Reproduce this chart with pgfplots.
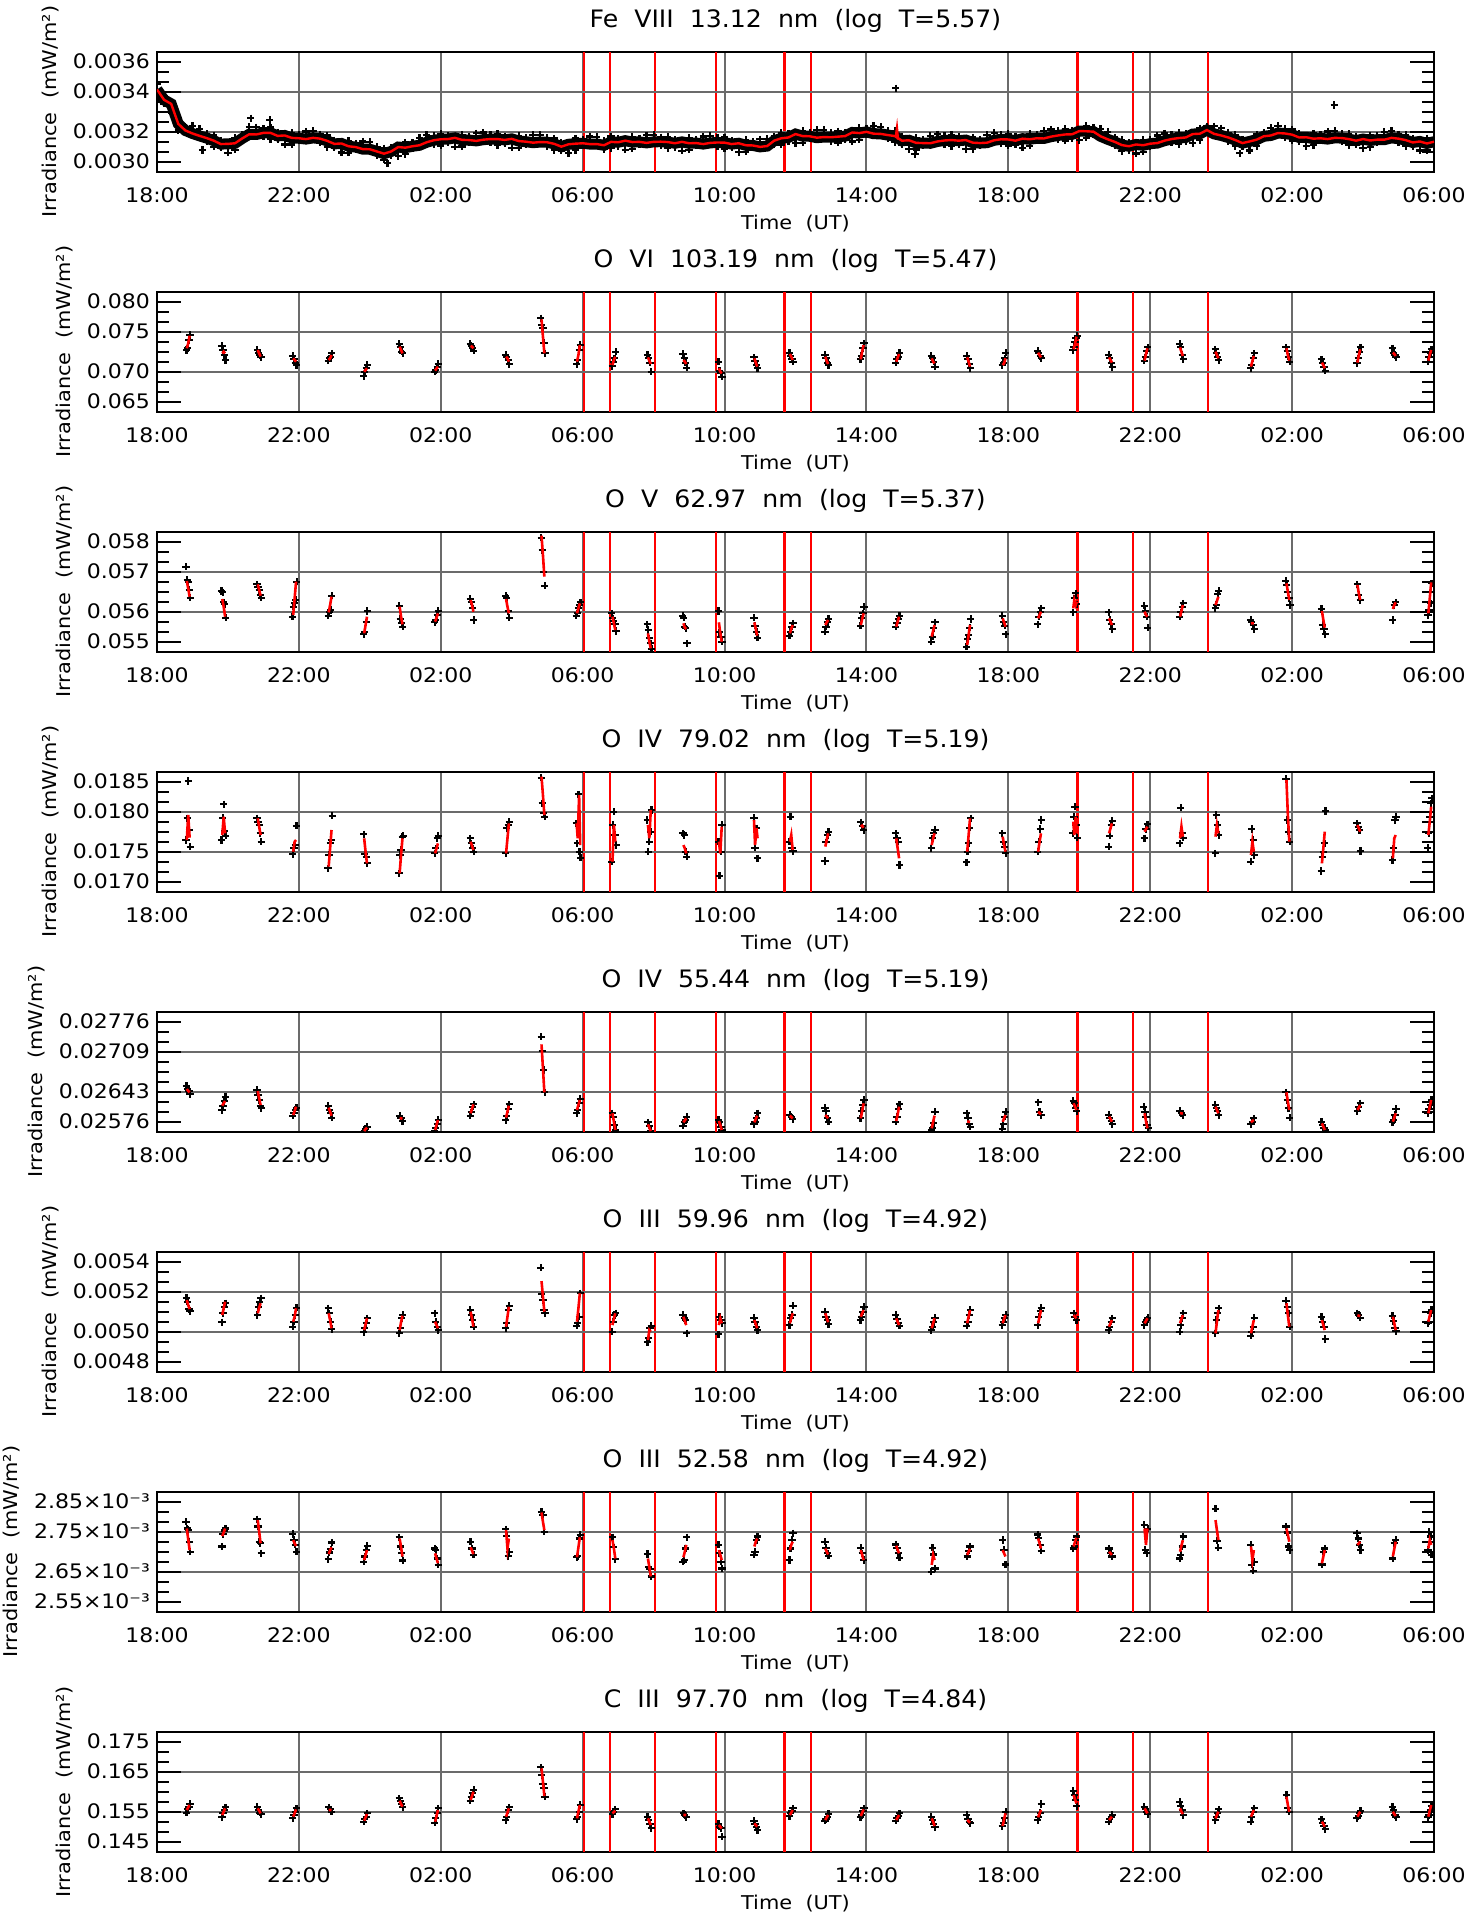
\documentclass[border=0pt]{standalone}
\usepackage{fontspec}
\setmainfont{DejaVu Sans}[FakeStretch=1.1,WordSpace=2]
\newfontfamily\ttl{DejaVu Sans}[FakeStretch=1.05,WordSpace=2]
\usepackage{pgfplots}
\usepackage{pgfplotstable}
\pgfplotsset{compat=1.18}
\definecolor{gridgray}{gray}{0.42}
\newcommand\tk{\fontsize{10}{12}\selectfont}
\newcommand\lb{\fontsize{9.5}{11}\selectfont}

\pgfplotsset{
  panel/.style={
    scale only axis, width=638.5pt, height=60pt, anchor=north west,
    xmin=0, xmax=36,
    clip marker paths=true,
    axis line style={line width=1.1pt},
    xtick={0,4,...,36},
    xticklabels={18:00,22:00,02:00,06:00,10:00,14:00,18:00,22:00,02:00,06:00},
    xmajorgrids,
    major grid style={gridgray,line width=1pt},
    xtick style={draw=none},
    tick align=inside,
    major tick length=12pt, minor tick length=6pt,
    every tick/.style={black,line width=1pt},
    scaled y ticks=false,
    ticklabel style={font=\tk},
    xticklabel style={anchor=base,yshift=-15.5pt},
    xlabel={Time (UT)},
    xlabel style={font=\lb,at={(axis description cs:0.5,0)},anchor=base,yshift=-29pt},
    ylabel={Irradiance (mW/m²)},
    ylabel style={font=\lb},
    title style={font=\ttl\fontsize{12}{14}\selectfont,at={(axis description cs:0.5,1)},anchor=base,yshift=6pt},
    extra x ticks={12.03,12.78,14.05,15.77,17.69,18.44,25.95,27.51,29.63},
    extra x tick labels={},
    extra x tick style={grid=major,major grid style={red,line width=1.05pt},major tick length=0pt},
    extra y tick labels={},
    extra y tick style={grid=major},
    unbounded coords=jump,
  },
  blk/.style={only marks,mark=+,mark size=1.8pt,black,mark options={solid,line width=1.1pt}},
  rd/.style={red,line width=1.3pt,mark=none},
}

% Fe VIII: smoothed curve (r) and the scatter of raw points (b1, b2)
\pgfplotstableread{
t r b1 b2
0 0.003411 0.003438 0.003380
0.2 0.003359 0.003340 0.003377
0.4 0.003339 0.003344 0.003294
0.6 0.003239 0.003206 0.003265
0.8 0.003206 0.003224 0.003194
1.0 0.003191 0.003187 0.003229
1.2 0.003179 0.003215 0.003173
1.4 0.003168 0.003149 0.003190
1.6 0.003155 0.003182 0.003124
1.8 0.003138 0.003119 0.003156
2.0 0.003139 0.003144 0.003094
2.2 0.003142 0.003109 0.003168
2.4 0.003166 0.003184 0.003154
2.6 0.003187 0.003183 0.003225
2.8 0.003186 0.003222 0.003180
3.0 0.003194 0.003175 0.003216
3.2 0.003194 0.003221 0.003163
3.4 0.003179 0.003160 0.003197
3.6 0.003181 0.003186 0.003136
3.8 0.003169 0.003136 0.003195
4.0 0.003167 0.003185 0.003155
4.2 0.003163 0.003159 0.003201
4.4 0.003169 0.003205 0.003163
4.6 0.003165 0.003146 0.003187
4.8 0.003154 0.003181 0.003123
5.0 0.003139 0.003120 0.003157
5.2 0.003141 0.003146 0.003096
5.4 0.003127 0.003094 0.003153
5.6 0.003123 0.003141 0.003111
5.8 0.003113 0.003109 0.003151
6.0 0.003112 0.003148 0.003106
6.2 0.003101 0.003082 0.003123
6.4 0.003090 0.003117 0.003059
6.6 0.003101 0.003082 0.003119
6.8 0.003123 0.003128 0.003078
7.0 0.003120 0.003087 0.003146
7.2 0.003127 0.003145 0.003115
7.4 0.003132 0.003128 0.003170
7.6 0.003147 0.003183 0.003141
7.8 0.003157 0.003138 0.003179
8.0 0.003162 0.003189 0.003131
8.2 0.003163 0.003144 0.003181
8.4 0.003169 0.003174 0.003124
8.6 0.003159 0.003126 0.003185
8.8 0.003158 0.003176 0.003146
9.0 0.003154 0.003150 0.003192
9.2 0.003160 0.003196 0.003154
9.4 0.003163 0.003144 0.003185
9.6 0.003163 0.003190 0.003132
9.8 0.003159 0.003140 0.003177
10.0 0.003164 0.003169 0.003119
10.2 0.003153 0.003120 0.003179
10.4 0.003150 0.003168 0.003138
10.6 0.003145 0.003141 0.003183
10.8 0.003148 0.003184 0.003142
11.0 0.003147 0.003128 0.003169
11.2 0.003139 0.003166 0.003108
11.4 0.003125 0.003106 0.003143
11.6 0.003137 0.003142 0.003092
11.8 0.003140 0.003107 0.003166
12.0 0.003142 0.003160 0.003130
12.2 0.003138 0.003134 0.003176
12.4 0.003138 0.003174 0.003132
12.6 0.003132 0.003113 0.003154
12.8 0.003149 0.003176 0.003118
13.0 0.003147 0.003128 0.003165
13.2 0.003155 0.003160 0.003110
13.4 0.003148 0.003115 0.003174
13.6 0.003149 0.003167 0.003137
13.8 0.003144 0.003140 0.003182
14.0 0.003149 0.003185 0.003143
14.2 0.003150 0.003131 0.003172
14.4 0.003148 0.003175 0.003117
14.6 0.003142 0.003123 0.003160
14.8 0.003149 0.003154 0.003104
15.0 0.003142 0.003109 0.003168
15.2 0.003143 0.003161 0.003131
15.4 0.003138 0.003134 0.003176
15.6 0.003144 0.003180 0.003138
15.8 0.003146 0.003127 0.003168
16.0 0.003145 0.003172 0.003114
16.2 0.003138 0.003119 0.003156
16.4 0.003142 0.003147 0.003097
16.6 0.003132 0.003099 0.003158
16.8 0.003131 0.003149 0.003119
17.0 0.003124 0.003120 0.003162
17.2 0.003128 0.003164 0.003122
17.4 0.003155 0.003136 0.003177
17.6 0.003167 0.003194 0.003136
17.8 0.003171 0.003152 0.003189
18.0 0.003188 0.003193 0.003143
18.2 0.003178 0.003145 0.003204
18.4 0.003177 0.003195 0.003165
18.6 0.003170 0.003166 0.003208
18.8 0.003173 0.003209 0.003167
19.0 0.003172 0.003153 0.003194
19.2 0.003175 0.003202 0.003144
19.4 0.003178 0.003159 0.003196
19.6 0.003196 0.003201 0.003151
19.8 0.003193 0.003160 0.003219
20.0 0.003199 0.003217 0.003187
20.2 0.003190 0.003186 0.003228
20.4 0.003189 0.003225 0.003183
20.6 0.003183 0.003164 0.003205
20.8 0.003178 0.003205 0.003147
21.0 0.003155 0.003136 0.003173
21.2 0.003157 0.003162 0.003112
21.4 0.003144 0.003111 0.003170
21.6 0.003143 0.003161 0.003131
21.8 0.003142 0.003138 0.003180
22.0 0.003151 0.003187 0.003145
22.2 0.003156 0.003137 0.003178
22.4 0.003158 0.003185 0.003127
22.6 0.003155 0.003136 0.003173
22.8 0.003158 0.003163 0.003113
23.0 0.003145 0.003112 0.003171
23.2 0.003143 0.003161 0.003131
23.4 0.003145 0.003141 0.003183
23.6 0.003157 0.003193 0.003151
23.8 0.003162 0.003143 0.003184
24.0 0.003161 0.003188 0.003130
24.2 0.003155 0.003136 0.003173
24.4 0.003165 0.003170 0.003120
24.6 0.003162 0.003129 0.003188
24.8 0.003167 0.003185 0.003155
25.0 0.003166 0.003162 0.003204
25.2 0.003175 0.003211 0.003169
25.4 0.003181 0.003162 0.003203
25.6 0.003186 0.003213 0.003155
25.8 0.003187 0.003168 0.003205
26.0 0.003203 0.003208 0.003158
26.2 0.003202 0.003169 0.003228
26.4 0.003200 0.003218 0.003188
26.6 0.003177 0.003173 0.003215
26.8 0.003162 0.003198 0.003156
27.0 0.003149 0.003130 0.003171
27.2 0.003133 0.003160 0.003102
27.4 0.003127 0.003108 0.003145
27.6 0.003136 0.003141 0.003091
27.8 0.003132 0.003099 0.003158
28.0 0.003140 0.003158 0.003128
28.2 0.003143 0.003139 0.003181
28.4 0.003155 0.003191 0.003149
28.6 0.003163 0.003144 0.003185
28.8 0.003168 0.003195 0.003137
29.0 0.003171 0.003152 0.003189
29.2 0.003188 0.003193 0.003143
29.4 0.003190 0.003157 0.003216
29.6 0.003208 0.003226 0.003196
29.8 0.003189 0.003185 0.003227
30.0 0.003181 0.003217 0.003175
30.2 0.003171 0.003152 0.003193
30.4 0.003158 0.003185 0.003127
30.6 0.003143 0.003124 0.003161
30.8 0.003151 0.003156 0.003106
31.0 0.003160 0.003127 0.003186
31.2 0.003177 0.003195 0.003165
31.4 0.003181 0.003177 0.003219
31.6 0.003193 0.003229 0.003187
31.8 0.003191 0.003172 0.003213
32.0 0.003185 0.003212 0.003154
32.2 0.003171 0.003152 0.003189
32.4 0.003172 0.003177 0.003127
32.6 0.003165 0.003132 0.003191
32.8 0.003167 0.003185 0.003155
33.0 0.003163 0.003159 0.003201
33.2 0.003169 0.003205 0.003163
33.4 0.003168 0.003149 0.003190
33.6 0.003163 0.003190 0.003132
33.8 0.003155 0.003136 0.003173
34.0 0.003163 0.003168 0.003118
34.2 0.003156 0.003123 0.003182
34.4 0.003160 0.003178 0.003148
34.6 0.003160 0.003156 0.003198
34.8 0.003169 0.003205 0.003163
35.0 0.003165 0.003146 0.003187
35.2 0.003158 0.003185 0.003127
35.4 0.003146 0.003127 0.003164
35.6 0.003151 0.003156 0.003106
35.8 0.003141 0.003108 0.003167
36.0 0.003150 0.003168 0.003138
}\fe

\begin{document}
\begin{tikzpicture}
\path[use as bounding box] (0,0) rectangle (740.5pt,957pt);

% ---------- Fe VIII ----------
\begin{axis}[panel, at={(78.5pt,931.15pt)},
  title={Fe VIII 13.12 nm (log T=5.57)},
  ymin=0.0030, ymax=0.0036,
  ytick={0.00305,0.0032,0.0034,0.00355},
  yticklabels={0.0030,0.0032,0.0034,0.0036},
  minor ytick={0.00305,0.0031,0.00315,0.0032,0.00325,0.0033,0.00335,0.0034,0.00345,0.0035,0.00355},
  extra y ticks={0.0032,0.0034}]
\addplot[black,line width=5.5pt] table[x=t,y=r]{\fe};
\addplot[blk] table[x=t,y=b1]{\fe};
\addplot[blk] table[x=t,y=b2]{\fe};
\addplot[blk] coordinates {(20.83,0.003417)(33.19,0.003333)(2.64,0.003267)(3.18,0.003258)(21.37,0.003087)(30.52,0.003092)(6.5,0.003042)(1.28,0.003108)};
\addplot[red,line width=1.2pt] table[x=t,y=r]{\fe};
\addplot[red,line width=1.2pt] coordinates {(20.83,0.003178)(20.86,0.003217)(20.89,0.003160)};
\end{axis}

% ---------- O VI ----------
\begin{axis}[panel, at={(78.5pt,811.15pt)},
  title={O VI 103.19 nm (log T=5.47)},
  ymin=0.065, ymax=0.080,
  ytick={0.06625,0.070,0.075,0.07875},
  yticklabels={0.065,0.070,0.075,0.080},
  minor ytick={0.06625,0.0675,0.06875,0.07,0.07125,0.0725,0.07375,0.075,0.07625,0.0775,0.07875},
  extra y ticks={0.070,0.075}]
\addplot[blk] coordinates {
(0.83,0.07271)(0.86,0.07292)(0.90,0.07396)(0.93,0.07458)
(1.83,0.07321)(1.86,0.07271)(1.90,0.07208)(1.93,0.07146)
(2.83,0.07271)(2.86,0.07238)(2.90,0.07208)(2.93,0.07179)
(3.83,0.07196)(3.86,0.07154)(3.90,0.07113)(3.93,0.07083)
(4.83,0.07138)(4.86,0.07167)(4.90,0.07188)(4.93,0.07229)
(5.83,0.06946)(5.86,0.07000)(5.90,0.07042)(5.93,0.07083)
(6.83,0.07346)(6.86,0.07304)(6.90,0.07250)(6.93,0.07229)
(7.83,0.07000)(7.86,0.07021)(7.90,0.07063)(7.93,0.07096)
(8.83,0.07346)(8.86,0.07321)(8.90,0.07292)(8.93,0.07263)
(9.83,0.07208)(9.86,0.07179)(9.90,0.07146)(9.93,0.07096)
(10.82,0.07667)(10.85,0.07583)(10.88,0.07542)(10.91,0.07363)(10.94,0.07229)
(11.83,0.07096)(11.86,0.07146)(11.90,0.07271)(11.93,0.07333)
(12.83,0.07071)(12.86,0.07125)(12.90,0.07167)(12.93,0.07250)
(13.83,0.07208)(13.86,0.07167)(13.90,0.07113)(13.93,0.07000)
(14.83,0.07221)(14.86,0.07167)(14.90,0.07113)(14.93,0.07050)
(15.83,0.07125)(15.86,0.07013)(15.90,0.06979)(15.93,0.06938)
(16.83,0.07179)(16.86,0.07138)(16.90,0.07083)(16.93,0.07042)
(17.83,0.07238)(17.86,0.07196)(17.90,0.07154)(17.93,0.07125)
(18.83,0.07208)(18.86,0.07167)(18.90,0.07113)(18.93,0.07083)
(19.83,0.07154)(19.86,0.07196)(19.90,0.07292)(19.93,0.07354)
(20.83,0.07113)(20.86,0.07154)(20.90,0.07188)(20.93,0.07238)
(21.83,0.07196)(21.86,0.07167)(21.90,0.07125)(21.93,0.07063)
(22.83,0.07196)(22.86,0.07154)(22.90,0.07096)(22.93,0.07042)
(23.83,0.07083)(23.86,0.07113)(23.90,0.07167)(23.93,0.07238)
(24.83,0.07263)(24.86,0.07229)(24.90,0.07196)(24.93,0.07167)
(25.82,0.07271)(25.85,0.07313)(25.88,0.07375)(25.91,0.07417)(25.94,0.07446)
(26.83,0.07208)(26.86,0.07167)(26.90,0.07113)(26.93,0.07054)
(27.83,0.07138)(27.86,0.07179)(27.90,0.07263)(27.93,0.07304)
(28.83,0.07346)(28.86,0.07304)(28.90,0.07208)(28.93,0.07154)
(29.83,0.07279)(29.86,0.07238)(29.90,0.07188)(29.93,0.07146)
(30.83,0.07042)(30.86,0.07083)(30.90,0.07167)(30.93,0.07229)
(31.83,0.07304)(31.86,0.07263)(31.90,0.07188)(31.93,0.07125)
(32.83,0.07154)(32.86,0.07104)(32.90,0.07054)(32.93,0.07013)
(33.83,0.07104)(33.86,0.07167)(33.90,0.07250)(33.93,0.07304)
(34.83,0.07292)(34.86,0.07238)(34.90,0.07208)(34.93,0.07179)
(35.83,0.07125)(35.86,0.07179)(35.90,0.07229)(35.93,0.07279)};
\addplot[rd] coordinates {
(0.84,0.07292)(0.88,0.07354)(0.92,0.07450)(0.96,nan)
(1.84,0.07229)(1.88,0.07250)(1.92,0.07229)(1.96,nan)
(2.84,0.07271)(2.88,0.07229)(2.92,0.07188)(2.96,nan)
(3.84,0.07167)(3.88,0.07146)(3.92,0.07125)(3.96,nan)
(4.84,0.07146)(4.88,0.07167)(4.92,0.07208)(4.96,nan)
(5.84,0.07000)(5.88,0.07021)(5.92,0.07042)(5.96,nan)
(6.84,0.07313)(6.88,0.07271)(6.92,0.07229)(6.96,nan)
(7.84,0.07013)(7.88,0.07040)(7.92,0.07063)(7.96,nan)
(8.84,0.07321)(8.88,0.07313)(8.92,0.07292)(8.96,nan)
(9.84,0.07188)(9.88,0.07167)(9.92,0.07125)(9.96,nan)
(10.84,0.07654)(10.88,0.07438)(10.92,0.07229)(10.96,nan)
(11.84,0.07125)(11.88,0.07208)(11.92,0.07333)(11.96,nan)
(12.84,0.07083)(12.88,0.07146)(12.92,0.07188)(12.96,nan)
(13.84,0.07179)(13.88,0.07138)(13.92,0.07096)(13.96,nan)
(14.84,0.07146)(14.88,0.07125)(14.92,0.07096)(14.96,nan)
(15.84,0.07042)(15.88,0.07000)(15.92,0.06979)(15.96,nan)
(16.84,0.07167)(16.88,0.07113)(16.92,0.07063)(16.96,nan)
(17.84,0.07221)(17.88,0.07188)(17.92,0.07146)(17.96,nan)
(18.84,0.07188)(18.88,0.07133)(18.92,0.07096)(18.96,nan)
(19.84,0.07154)(19.88,0.07254)(19.92,0.07333)(19.96,nan)
(20.84,0.07125)(20.88,0.07175)(20.92,0.07221)(20.96,nan)
(21.84,0.07167)(21.88,0.07125)(21.92,0.07104)(21.96,nan)
(22.84,0.07179)(22.88,0.07125)(22.92,0.07063)(22.96,nan)
(23.84,0.07083)(23.88,0.07104)(23.92,0.07167)(23.96,nan)
(24.84,0.07238)(24.88,0.07208)(24.92,0.07179)(24.96,nan)
(25.84,0.07280)(25.88,0.07350)(25.92,0.07438)(25.96,nan)
(26.84,0.07179)(26.88,0.07146)(26.92,0.07113)(26.96,nan)
(27.84,0.07138)(27.88,0.07221)(27.92,0.07292)(27.96,nan)
(28.84,0.07304)(28.88,0.07246)(28.92,0.07196)(28.96,nan)
(29.84,0.07250)(29.88,0.07208)(29.92,0.07167)(29.96,nan)
(30.84,0.07063)(30.88,0.07133)(30.92,0.07196)(30.96,nan)
(31.84,0.07292)(31.88,0.07208)(31.92,0.07138)(31.96,nan)
(32.84,0.07113)(32.88,0.07083)(32.92,0.07042)(32.96,nan)
(33.84,0.07113)(33.88,0.07204)(33.92,0.07279)(33.96,nan)
(34.84,0.07238)(34.88,0.07221)(34.92,0.07196)(34.96,nan)
(35.84,0.07138)(35.88,0.07208)(35.92,0.07271)};
\end{axis}

% ---------- O V ----------
\begin{axis}[panel, at={(78.5pt,691.15pt)},
  title={O V 62.97 nm (log T=5.37)},
  ymin=0.055, ymax=0.058,
  ytick={0.05525,0.056,0.057,0.05775},
  yticklabels={0.055,0.056,0.057,0.058},
  minor ytick={0.05525,0.0555,0.05575,0.056,0.05625,0.0565,0.05675,0.057,0.05725,0.0575,0.05775},
  extra y ticks={0.056,0.057}]
\addplot[blk] coordinates {
(0.82,0.057125)(0.85,0.056792)(0.88,0.056733)(0.91,0.056542)(0.94,0.05635)
(1.82,0.056517)(1.85,0.056483)(1.88,0.056233)(1.91,0.056183)(1.94,0.05585)
(2.82,0.056683)(2.85,0.056625)(2.88,0.056542)(2.91,0.056417)(2.94,0.05635)
(3.82,0.055875)(3.85,0.056125)(3.88,0.056208)(3.91,0.056292)(3.94,0.05675)
(4.83,0.0559)(4.86,0.055983)(4.90,0.056042)(4.93,0.0564)
(5.83,0.055433)(5.86,0.0555)(5.90,0.055733)(5.93,0.056017)
(6.83,0.05615)(6.86,0.055817)(6.90,0.055708)(6.93,0.055625)
(7.83,0.055733)(7.86,0.055792)(7.90,0.055917)(7.93,0.056017)
(8.83,0.056317)(8.86,0.05625)(8.90,0.056083)(8.93,0.055792)
(9.83,0.0564)(9.86,0.05635)(9.90,0.056017)(9.93,0.05585)
(10.83,0.05785)(10.86,0.057542)(10.90,0.057)(10.93,0.05665)
(11.82,0.0559)(11.85,0.055958)(11.88,0.056083)(11.91,0.056167)(11.94,0.056233)
(12.82,0.055958)(12.85,0.055833)(12.88,0.055767)(12.91,0.055683)(12.94,0.055517)
(13.82,0.055683)(13.85,0.055542)(13.88,0.055333)(13.91,0.055208)(13.94,0.055067)
(14.82,0.0559)(14.85,0.05585)(14.88,0.055625)(14.91,0.055583)(14.94,0.055208)
(15.83,0.056017)(15.86,0.055483)(15.90,0.055375)(15.93,0.05525)
(16.83,0.05585)(16.86,0.05565)(16.90,0.0555)(16.93,0.05535)
(17.83,0.0554)(17.86,0.0555)(17.90,0.055625)(17.93,0.055708)
(18.83,0.0555)(18.86,0.055625)(18.90,0.055733)(18.93,0.055817)
(19.83,0.05565)(19.86,0.055833)(19.90,0.055958)(19.93,0.056125)
(20.83,0.055625)(20.86,0.055708)(20.90,0.055817)(20.93,0.0559)
(21.83,0.05525)(21.86,0.055375)(21.90,0.055583)(21.93,0.055733)
(22.82,0.055125)(22.85,0.055317)(22.88,0.055417)(22.91,0.0556)(22.94,0.055817)
(23.83,0.0559)(23.86,0.05575)(23.90,0.05565)(23.93,0.055433)
(24.83,0.055683)(24.86,0.055875)(24.90,0.055983)(24.93,0.056083)
(25.83,0.055983)(25.86,0.056333)(25.90,0.056458)(25.93,0.056183)
(26.83,0.055983)(26.86,0.055792)(26.90,0.055683)(26.93,0.055567)
(27.83,0.05615)(27.86,0.056017)(27.90,0.055875)(27.93,0.0556)
(28.83,0.055875)(28.86,0.055983)(28.90,0.056125)(28.93,0.056208)
(29.83,0.056083)(29.86,0.056167)(29.90,0.056433)(29.93,0.056517)
(30.83,0.055792)(30.86,0.055733)(30.90,0.055667)(30.93,0.055567)
(31.82,0.056767)(31.85,0.056667)(31.88,0.056483)(31.91,0.056333)(31.94,0.056167)
(32.83,0.056067)(32.86,0.055667)(32.90,0.055567)(32.93,0.055433)
(33.84,0.056683)(33.88,0.056417)(33.92,0.056292)
(34.84,0.055792)(34.88,0.056167)(34.92,0.056233)
(35.83,0.055917)(35.86,0.056042)(35.90,0.056208)(35.93,0.056708)};
\addplot[rd] coordinates {
(0.84,0.056767)(0.88,0.056583)(0.92,0.056375)(0.96,nan)
(1.84,0.056317)(1.88,0.056125)(1.92,0.055875)(1.96,nan)
(2.84,0.056683)(2.88,0.056542)(2.92,0.0564)(2.96,nan)
(3.84,0.055917)(3.88,0.056333)(3.92,0.05675)(3.96,nan)
(4.84,0.055983)(4.88,0.056167)(4.92,0.056375)(4.96,nan)
(5.84,0.055458)(5.88,0.055667)(5.92,0.055875)(5.96,nan)
(6.84,0.056125)(6.88,0.055875)(6.92,0.055683)(6.96,nan)
(7.84,0.05575)(7.88,0.05585)(7.92,0.055958)(7.96,nan)
(8.84,0.056292)(8.88,0.056167)(8.92,0.056)(8.96,nan)
(9.84,0.056317)(9.88,0.056125)(9.92,0.055958)(9.96,nan)
(10.84,0.0579)(10.88,0.057417)(10.92,0.056875)(10.96,nan)
(11.84,0.055958)(11.88,0.056083)(11.92,0.056208)(11.96,nan)
(12.84,0.055875)(12.88,0.055708)(12.92,0.055542)(12.96,nan)
(13.84,0.055458)(13.88,0.05525)(13.92,0.055083)(13.96,nan)
(14.84,0.055708)(14.88,0.0556)(14.92,0.055567)(14.96,nan)
(15.84,0.055733)(15.88,0.055458)(15.92,0.05525)(15.96,nan)
(16.84,0.055733)(16.88,0.055567)(16.92,0.0554)(16.96,nan)
(17.84,0.055458)(17.88,0.055567)(17.92,0.055667)(17.96,nan)
(18.84,0.055667)(18.88,0.055733)(18.92,0.055792)(18.96,nan)
(19.84,0.055667)(19.88,0.055817)(19.92,0.055958)(19.96,nan)
(20.84,0.055625)(20.88,0.05575)(20.92,0.055875)(20.96,nan)
(21.84,0.055375)(21.88,0.055517)(21.92,0.055667)(21.96,nan)
(22.84,0.055167)(22.88,0.055417)(22.92,0.055667)(22.96,nan)
(23.84,0.055833)(23.88,0.055733)(23.92,0.055625)(23.96,nan)
(24.84,0.055833)(24.88,0.055917)(24.92,0.056)(24.96,nan)
(25.83,0.056083)(25.86,0.056292)(25.90,0.056167)(25.93,0.05625)(25.96,nan)
(26.84,0.055833)(26.88,0.05575)(26.92,0.055667)(26.96,nan)
(27.84,0.056)(27.88,0.055917)(27.92,0.055875)(27.96,nan)
(28.84,0.055875)(28.88,0.056017)(28.92,0.056167)(28.96,nan)
(29.84,0.056167)(29.88,0.056267)(29.92,0.056375)(29.96,nan)
(30.84,0.055708)(30.88,0.05571)(30.92,0.055708)(30.96,nan)
(31.84,0.056708)(31.88,0.0565)(31.92,0.056292)(31.96,nan)
(32.84,0.056017)(32.88,0.055792)(32.92,0.0556)(32.96,nan)
(33.84,0.056667)(33.88,0.056458)(33.92,0.056292)(33.96,nan)
(34.84,0.056067)(34.88,0.056167)(34.92,0.056233)(34.96,nan)
(35.84,0.055958)(35.88,0.056333)(35.92,0.056733)};
\end{axis}

% ---------- O IV 79.02 ----------
\begin{axis}[panel, at={(78.5pt,571.15pt)},
  title={O IV 79.02 nm (log T=5.19)},
  ymin=0.0170, ymax=0.0185,
  ytick={0.017125,0.0175,0.018,0.018375},
  yticklabels={0.0170,0.0175,0.0180,0.0185},
  minor ytick={0.017125,0.01725,0.017375,0.0175,0.017625,0.01775,0.017875,0.018,0.018125,0.01825,0.018375},
  extra y ticks={0.0175,0.018}]
\addplot[blk] coordinates {
(0.82,0.017646)(0.85,0.017917)(0.88,0.018383)(0.91,0.017771)(0.94,0.017563)
(1.82,0.017646)(1.85,0.017925)(1.88,0.018092)(1.91,0.017758)(1.94,0.0177)
(2.82,0.017917)(2.85,0.017875)(2.88,0.017833)(2.91,0.017729)(2.94,0.017625)
(3.83,0.017467)(3.86,0.017542)(3.90,0.017583)(3.93,0.017825)
(4.82,0.017292)(4.85,0.017458)(4.88,0.017604)(4.91,0.017646)(4.94,0.01795)
(5.83,0.017717)(5.86,0.017467)(5.90,0.017438)(5.93,0.017354)
(6.82,0.017229)(6.85,0.017458)(6.88,0.017521)(6.91,0.017688)(6.94,0.0177)
(7.83,0.017479)(7.86,0.017542)(7.90,0.017667)(7.93,0.0177)
(8.83,0.017667)(8.86,0.017604)(8.90,0.017542)(8.93,0.0175)
(9.83,0.017479)(9.86,0.017792)(9.90,0.017833)(9.93,0.017875)
(10.83,0.018425)(10.86,0.018104)(10.90,0.017979)(10.93,0.017938)
(11.82,0.017854)(11.85,0.017604)(11.88,0.018217)(11.91,0.0175)(11.94,0.017425)
(12.82,0.017375)(12.85,0.017833)(12.88,0.018)(12.91,0.017708)(12.94,0.017583)
(13.82,0.017896)(13.85,0.0175)(13.88,0.017625)(13.91,0.01775)(13.94,0.018021)
(14.83,0.017729)(14.86,0.017708)(14.90,0.0175)(14.93,0.017438)
(15.83,0.017625)(15.86,0.0172)(15.90,0.0175)(15.93,0.017833)
(16.83,0.017925)(16.86,0.01755)(16.90,0.017792)(16.93,0.017417)
(17.83,0.017625)(17.86,0.017938)(17.90,0.017542)(17.93,0.017508)
(18.83,0.017383)(18.86,0.017617)(18.90,0.017708)(18.93,0.01775)
(19.84,0.017867)(19.88,0.017825)(19.92,0.017771)
(20.83,0.017729)(20.86,0.017667)(20.90,0.017625)(20.93,0.017333)
(21.83,0.017542)(21.86,0.017667)(21.90,0.017729)(21.93,0.017771)
(22.82,0.017367)(22.85,0.0175)(22.88,0.017604)(22.91,0.0178)(22.94,0.017917)
(23.83,0.017729)(23.86,0.017625)(23.90,0.017563)(23.93,0.017479)
(24.83,0.0175)(24.86,0.017625)(24.90,0.017783)(24.93,0.017896)
(25.82,0.017729)(25.85,0.017938)(25.88,0.018063)(25.91,0.017833)(25.94,0.017675)
(26.83,0.017563)(26.86,0.0177)(26.90,0.017833)(26.93,0.017883)
(27.84,0.017667)(27.88,0.017783)(27.92,0.017842)
(28.83,0.017604)(28.86,0.01805)(28.90,0.017729)(28.93,0.017675)
(29.83,0.017479)(29.86,0.017958)(29.90,0.017833)(29.93,0.017708)
(30.83,0.017375)(30.86,0.017783)(30.90,0.017646)(30.93,0.017458)
(31.83,0.018408)(31.86,0.017896)(31.90,0.01775)(31.93,0.017625)
(32.82,0.017258)(32.85,0.017438)(32.88,0.0175)(32.91,0.017604)(32.94,0.018008)
(33.83,0.017854)(33.86,0.017813)(33.90,0.017771)(33.93,0.017508)
(34.83,0.017396)(34.86,0.017542)(34.90,0.017896)(34.93,0.017938)
(35.82,0.01755)(35.85,0.017729)(35.88,0.017938)(35.91,0.018104)(35.94,0.018167)};
\addplot[rd] coordinates {
(0.84,0.017646)(0.88,0.017958)(0.92,0.017675)(0.96,nan)
(1.84,0.017708)(1.88,0.017938)(1.92,0.017729)(1.96,nan)
(2.84,0.017917)(2.88,0.017813)(2.92,0.017708)(2.96,nan)
(3.84,0.0175)(3.88,0.017625)(3.92,0.017646)(3.96,nan)
(4.84,0.017313)(4.88,0.017542)(4.92,0.017771)(4.96,nan)
(5.84,0.017667)(5.88,0.0175)(5.92,0.017354)(5.96,nan)
(6.84,0.017229)(6.88,0.017458)(6.92,0.017667)(6.96,nan)
(7.84,0.017479)(7.88,0.017542)(7.92,0.017604)(7.96,nan)
(8.84,0.017625)(8.88,0.017575)(8.92,0.017521)(8.96,nan)
(9.84,0.017479)(9.88,0.017667)(9.92,0.017854)(9.96,nan)
(10.84,0.018438)(10.88,0.018208)(10.92,0.017958)(10.96,nan)
(11.83,0.017854)(11.86,0.017667)(11.90,0.018208)(11.93,0.017583)(11.96,nan)
(12.84,0.017375)(12.88,0.017833)(12.92,0.017625)(12.96,nan)
(13.84,0.017833)(13.88,0.017667)(13.92,0.018021)(13.96,nan)
(14.84,0.017583)(14.88,0.017542)(14.92,0.017479)(14.96,nan)
(15.84,0.017625)(15.88,0.017479)(15.92,0.017813)(15.96,nan)
(16.83,0.017896)(16.86,0.017583)(16.90,0.017792)(16.93,0.017667)(16.96,nan)
(17.84,0.017625)(17.88,0.017708)(17.92,0.017521)(17.96,nan)
(18.84,0.017563)(18.88,0.017646)(18.92,0.017729)(18.96,nan)
(19.84,0.017813)(19.88,0.017825)(19.92,0.0178)(19.96,nan)
(20.84,0.017667)(20.88,0.017542)(20.92,0.017417)(20.96,nan)
(21.84,0.017583)(21.88,0.017667)(21.92,0.017729)(21.96,nan)
(22.84,0.0175)(22.88,0.017708)(22.92,0.017917)(22.96,nan)
(23.84,0.017688)(23.88,0.017583)(23.92,0.0175)(23.96,nan)
(24.84,0.0175)(24.88,0.017625)(24.92,0.017729)(24.96,nan)
(25.83,0.017875)(25.86,0.017708)(25.90,0.017938)(25.93,0.017729)(25.96,nan)
(26.84,0.017729)(26.88,0.017792)(26.92,0.017854)(26.96,nan)
(27.84,0.01775)(27.88,0.017783)(27.92,0.017813)(27.96,nan)
(28.84,0.017667)(28.88,0.017813)(28.92,0.017688)(28.96,nan)
(29.84,0.017688)(29.88,0.017833)(29.92,0.017729)(29.96,nan)
(30.84,0.017458)(30.88,0.017625)(30.92,0.0175)(30.96,nan)
(31.84,0.018396)(31.88,0.017958)(31.92,0.017625)(31.96,nan)
(32.84,0.017354)(32.88,0.017542)(32.92,0.01775)(32.96,nan)
(33.84,0.017833)(33.88,0.017792)(33.92,0.01775)(33.96,nan)
(34.84,0.017417)(34.88,0.017667)(34.92,0.017708)(34.96,nan)
(35.84,0.017708)(35.88,0.017875)(35.92,0.018063)};
\end{axis}

% ---------- O IV 55.44 ----------
\begin{axis}[panel, at={(78.5pt,451.15pt)},
  title={O IV 55.44 nm (log T=5.19)},
  ymin=0.02577, ymax=0.02775,
  ytick={0.025935,0.02643,0.02709,0.027585},
  yticklabels={0.02576,0.02643,0.02709,0.02776},
  minor ytick={0.025935,0.0261,0.026265,0.02643,0.026595,0.02676,0.026925,0.02709,0.027255,0.02742,0.027585},
  extra y ticks={0.02643,0.02709}]
\addplot[blk] coordinates {
(0.83,0.026529)(0.86,0.026474)(0.90,0.026441)(0.93,0.026386)
(1.83,0.026128)(1.86,0.026199)(1.90,0.026276)(1.93,0.026348)
(2.82,0.026458)(2.85,0.026375)(2.88,0.026293)(2.91,0.026199)(2.94,0.026155)
(3.83,0.026034)(3.86,0.026073)(3.90,0.026128)(3.93,0.026166)
(4.83,0.026199)(4.86,0.026128)(4.90,0.026073)(4.93,0.026001)
(5.84,0.025781)(5.88,0.025814)(5.92,0.025853)
(6.84,0.026034)(6.88,0.02599)(6.92,0.025946)
(7.83,0.025781)(7.86,0.025825)(7.90,0.025891)(7.93,0.025963)
(8.83,0.026034)(8.86,0.026089)(8.90,0.026183)(8.93,0.026221)
(9.83,0.025963)(9.86,0.026034)(9.90,0.026144)(9.93,0.026221)
(10.83,0.027338)(10.86,0.027101)(10.90,0.026788)(10.93,0.026419)
(11.83,0.026073)(11.86,0.026128)(11.90,0.026238)(11.93,0.026309)
(12.83,0.026073)(12.86,0.026018)(12.90,0.02588)(12.93,0.025798)
(13.84,0.025924)(13.88,0.025869)(13.92,0.025781)
(14.83,0.025869)(14.86,0.025924)(14.90,0.025963)(14.93,0.026018)
(15.83,0.025963)(15.86,0.025924)(15.90,0.025853)(15.93,0.025798)
(16.83,0.025891)(16.86,0.025935)(16.90,0.02599)(16.93,0.026073)
(17.84,0.026045)(17.88,0.026018)(17.92,0.025979)
(18.83,0.026166)(18.86,0.026111)(18.90,0.02599)(18.93,0.025935)
(19.83,0.02599)(19.86,0.026111)(19.90,0.02621)(19.93,0.026293)
(20.83,0.025935)(20.86,0.026018)(20.90,0.026144)(20.93,0.026221)
(21.83,0.025798)(21.86,0.025836)(21.90,0.025908)(21.93,0.0261)
(22.83,0.026073)(22.86,0.026001)(22.90,0.025891)(22.93,0.025853)
(23.83,0.025814)(23.86,0.025891)(23.90,0.026018)(23.93,0.0261)
(24.84,0.026254)(24.88,0.0261)(24.92,0.026045)
(25.83,0.026276)(25.86,0.026238)(25.90,0.026166)(25.93,0.026111)
(26.83,0.026045)(26.86,0.02599)(26.90,0.025946)(26.93,0.025891)
(27.82,0.026183)(27.85,0.0261)(27.88,0.026018)(27.91,0.02588)(27.94,0.025825)
(28.84,0.026111)(28.88,0.026073)(28.92,0.026045)
(29.83,0.02621)(29.86,0.026166)(29.90,0.026111)(29.93,0.026045)
(30.84,0.025891)(30.88,0.025935)(30.92,0.02599)
(31.83,0.026419)(31.86,0.026293)(31.90,0.026155)(31.93,0.026001)
(32.83,0.025935)(32.86,0.02588)(32.90,0.025836)(32.93,0.025798)
(33.84,0.026111)(33.88,0.026183)(33.92,0.026238)
(34.83,0.025924)(34.86,0.025963)(34.90,0.026045)(34.93,0.026144)
(35.83,0.026073)(35.86,0.026144)(35.90,0.02621)(35.93,0.026293)};
\addplot[rd] coordinates {
(0.84,0.026474)(0.88,0.026441)(0.92,0.026419)(0.96,nan)
(1.84,0.026199)(1.88,0.026238)(1.92,0.026276)(1.96,nan)
(2.84,0.026441)(2.88,0.02632)(2.92,0.02621)(2.96,nan)
(3.84,0.026045)(3.88,0.026111)(3.92,0.026183)(3.96,nan)
(4.84,0.026166)(4.88,0.0261)(4.92,0.026034)(4.96,nan)
(5.84,0.025781)(5.88,0.025814)(5.92,0.025836)(5.96,nan)
(6.84,0.025995)(6.88,0.02599)(6.92,0.025985)(6.96,nan)
(7.84,0.025798)(7.88,0.02588)(7.92,0.025963)(7.96,nan)
(8.84,0.026073)(8.88,0.026144)(8.92,0.026221)(8.96,nan)
(9.84,0.026001)(9.88,0.0261)(9.92,0.026199)(9.96,nan)
(10.84,0.027211)(10.88,0.026815)(10.92,0.026419)(10.96,nan)
(11.84,0.026128)(11.88,0.02621)(11.92,0.026293)(11.96,nan)
(12.84,0.026073)(12.88,0.025935)(12.92,0.025798)(12.96,nan)
(13.84,0.025891)(13.88,0.025836)(13.92,0.025781)(13.96,nan)
(14.84,0.025924)(14.88,0.025957)(14.92,0.02599)(14.96,nan)
(15.84,0.025946)(15.88,0.02588)(15.92,0.025798)(15.96,nan)
(16.84,0.025924)(16.88,0.025979)(16.92,0.026034)(16.96,nan)
(17.84,0.026034)(17.88,0.026012)(17.92,0.02599)(17.96,nan)
(18.84,0.026045)(18.88,0.026018)(18.92,0.02599)(18.96,nan)
(19.84,0.02599)(19.88,0.026111)(19.92,0.026238)(19.96,nan)
(20.84,0.025946)(20.88,0.026056)(20.92,0.026183)(20.96,nan)
(21.84,0.025825)(21.88,0.025935)(21.92,0.026034)(21.96,nan)
(22.84,0.02594)(22.88,0.025935)(22.92,0.02593)(22.96,nan)
(23.84,0.025935)(23.88,0.02599)(23.92,0.026045)(23.96,nan)
(24.84,0.0261)(24.88,0.026078)(24.92,0.026056)(24.96,nan)
(25.84,0.026238)(25.88,0.026183)(25.92,0.026128)(25.96,nan)
(26.84,0.026018)(26.88,0.025979)(26.92,0.025935)(26.96,nan)
(27.84,0.026073)(27.88,0.025946)(27.92,0.025825)(27.96,nan)
(28.84,0.026078)(28.88,0.026073)(28.92,0.026068)(28.96,nan)
(29.84,0.026183)(29.88,0.026128)(29.92,0.026073)(29.96,nan)
(30.84,0.025924)(30.88,0.025946)(30.92,0.025963)(30.96,nan)
(31.84,0.026419)(31.88,0.026265)(31.92,0.026128)(31.96,nan)
(32.84,0.025908)(32.88,0.025853)(32.92,0.025798)(32.96,nan)
(33.84,0.026128)(33.88,0.026166)(33.92,0.02621)(33.96,nan)
(34.84,0.025935)(34.88,0.026001)(34.92,0.026073)(34.96,nan)
(35.84,0.026073)(35.88,0.026183)(35.92,0.026293)};
\end{axis}

% ---------- O III 59.96 ----------
\begin{axis}[panel, at={(78.5pt,331.15pt)},
  title={O III 59.96 nm (log T=4.92)},
  ymin=0.0048, ymax=0.0054,
  ytick={0.00485,0.005,0.0052,0.00535},
  yticklabels={0.0048,0.0050,0.0052,0.0054},
  minor ytick={0.00485,0.0049,0.00495,0.005,0.00505,0.0051,0.00515,0.0052,0.00525,0.0053,0.00535},
  extra y ticks={0.005,0.0052}]
\addplot[blk] coordinates {
(0.83,0.00517)(0.86,0.00515)(0.90,0.005113)(0.93,0.005103)
(1.83,0.005047)(1.86,0.005092)(1.90,0.005125)(1.93,0.005142)
(2.83,0.005083)(2.86,0.005125)(2.90,0.00515)(2.93,0.005167)
(3.83,0.005025)(3.86,0.00505)(3.90,0.005083)(3.93,0.00512)
(4.83,0.005117)(4.86,0.005092)(4.90,0.00505)(4.93,0.005013)
(5.83,0.004997)(5.86,0.005017)(5.90,0.005042)(5.93,0.005067)
(6.83,0.004992)(6.86,0.005017)(6.90,0.005067)(6.93,0.005083)
(7.83,0.005092)(7.86,0.00505)(7.90,0.005025)(7.93,0.005008)
(8.83,0.005108)(8.86,0.005083)(8.90,0.005058)(8.93,0.005025)
(9.83,0.005017)(9.86,0.005042)(9.90,0.005108)(9.93,0.00513)
(10.82,0.00532)(10.85,0.005187)(10.88,0.005158)(10.91,0.005108)(10.94,0.005092)
(11.83,0.00503)(11.86,0.005042)(11.90,0.005075)(11.93,0.005192)
(12.83,0.005)(12.86,0.00505)(12.90,0.005083)(12.93,0.005092)
(13.83,0.004947)(13.86,0.004967)(13.90,0.005017)(13.93,0.00503)
(14.83,0.005083)(14.86,0.005067)(14.90,0.005058)(14.93,0.004992)
(15.83,0.004987)(15.86,0.005075)(15.90,0.005058)(15.93,0.005042)
(16.83,0.00507)(16.86,0.00505)(16.90,0.005025)(16.93,0.005008)
(17.83,0.005033)(17.86,0.005067)(17.90,0.005083)(17.93,0.00513)
(18.83,0.0051)(18.86,0.005075)(18.90,0.005058)(18.93,0.005037)
(19.83,0.005058)(19.86,0.005075)(19.90,0.0051)(19.93,0.005125)
(20.83,0.005083)(20.86,0.005063)(20.90,0.005042)(20.93,0.00503)
(21.83,0.005008)(21.86,0.005025)(21.90,0.005047)(21.93,0.00507)
(22.83,0.00503)(22.86,0.00505)(22.90,0.005083)(22.93,0.005108)
(23.83,0.005033)(23.86,0.00505)(23.90,0.005067)(23.93,0.005083)
(24.83,0.005033)(24.86,0.005075)(24.90,0.005103)(24.93,0.00512)
(25.84,0.005092)(25.88,0.005075)(25.92,0.005058)
(26.83,0.005008)(26.86,0.005025)(26.90,0.00505)(26.93,0.005067)
(27.83,0.005033)(27.86,0.005047)(27.90,0.005058)(27.93,0.00507)
(28.83,0.005)(28.86,0.005033)(28.90,0.005067)(28.93,0.005092)
(29.83,0.004992)(29.86,0.005058)(29.90,0.005092)(29.93,0.005117)
(30.83,0.00498)(30.86,0.005)(30.90,0.005025)(30.93,0.00507)
(31.83,0.005153)(31.86,0.005125)(31.90,0.005092)(31.93,0.005025)
(32.83,0.005075)(32.86,0.00505)(32.90,0.005025)(32.93,0.004963)
(33.84,0.005092)(33.88,0.005083)(33.92,0.00507)
(34.83,0.00508)(34.86,0.005053)(34.90,0.005017)(34.93,0.005003)
(35.83,0.005042)(35.86,0.00505)(35.90,0.005092)(35.93,0.005108)};
\addplot[rd] coordinates {
(0.84,0.005158)(0.88,0.005133)(0.92,0.005113)(0.96,nan)
(1.84,0.005083)(1.88,0.005117)(1.92,0.00515)(1.96,nan)
(2.84,0.005092)(2.88,0.00512)(2.92,0.005142)(2.96,nan)
(3.84,0.00505)(3.88,0.005075)(3.92,0.005117)(3.96,nan)
(4.84,0.005092)(4.88,0.005058)(4.92,0.005017)(4.96,nan)
(5.84,0.005008)(5.88,0.005037)(5.92,0.005067)(5.96,nan)
(6.84,0.005008)(6.88,0.005047)(6.92,0.00508)(6.96,nan)
(7.84,0.00505)(7.88,0.005033)(7.92,0.005017)(7.96,nan)
(8.84,0.0051)(8.88,0.005067)(8.92,0.005025)(8.96,nan)
(9.84,0.005025)(9.88,0.005075)(9.92,0.005125)(9.96,nan)
(10.84,0.005253)(10.88,0.005175)(10.92,0.0051)(10.96,nan)
(11.84,0.00505)(11.88,0.005117)(11.92,0.005192)(11.96,nan)
(12.84,0.005033)(12.88,0.005067)(12.92,0.005092)(12.96,nan)
(13.84,0.004958)(13.88,0.005008)(13.92,0.005)(13.96,nan)
(14.84,0.005075)(14.88,0.005053)(14.92,0.005033)(14.96,nan)
(15.84,0.005033)(15.88,0.005067)(15.92,0.005042)(15.96,nan)
(16.84,0.005058)(16.88,0.005037)(16.92,0.005017)(16.96,nan)
(17.84,0.005042)(17.88,0.005067)(17.92,0.005092)(17.96,nan)
(18.84,0.005092)(18.88,0.00507)(18.92,0.005047)(18.96,nan)
(19.84,0.005075)(19.88,0.005092)(19.92,0.005108)(19.96,nan)
(20.84,0.005067)(20.88,0.00505)(20.92,0.005033)(20.96,nan)
(21.84,0.005017)(21.88,0.005042)(21.92,0.005067)(21.96,nan)
(22.84,0.005042)(22.88,0.005075)(22.92,0.005108)(22.96,nan)
(23.84,0.005042)(23.88,0.005063)(23.92,0.005083)(23.96,nan)
(24.84,0.005042)(24.88,0.005075)(24.92,0.005108)(24.96,nan)
(25.84,0.005083)(25.88,0.005075)(25.92,0.005067)(25.96,nan)
(26.84,0.005025)(26.88,0.005042)(26.92,0.005058)(26.96,nan)
(27.84,0.005042)(27.88,0.005053)(27.92,0.005067)(27.96,nan)
(28.84,0.005042)(28.88,0.005063)(28.92,0.005083)(28.96,nan)
(29.84,0.004992)(29.88,0.00505)(29.92,0.005108)(29.96,nan)
(30.84,0.004992)(30.88,0.005025)(30.92,0.005058)(30.96,nan)
(31.84,0.005142)(31.88,0.005083)(31.92,0.005025)(31.96,nan)
(32.84,0.005058)(32.88,0.005033)(32.92,0.005008)(32.96,nan)
(33.84,0.005082)(33.88,0.00508)(33.92,0.005078)(33.96,nan)
(34.84,0.005075)(34.88,0.005042)(34.92,0.005008)(34.96,nan)
(35.84,0.00505)(35.88,0.00508)(35.92,0.005108)};
\end{axis}

% ---------- O III 52.58 ----------
\begin{axis}[panel, at={(78.5pt,211.15pt)},
  title={O III 52.58 nm (log T=4.92)},
  ymin=0.00255, ymax=0.00285,
  ytick={0.002575,0.00265,0.00275,0.002825},
  yticklabels={2.55×10⁻³,2.65×10⁻³,2.75×10⁻³,2.85×10⁻³},
  minor ytick={0.002575,0.0026,0.002625,0.00265,0.002675,0.0027,0.002725,0.00275,0.002775,0.0028,0.002825},
  extra y ticks={0.00265,0.00275}]
\addplot[blk] coordinates {
(0.82,0.002775)(0.85,0.002758)(0.88,0.002754)(0.91,0.002725)(0.94,0.0027)
(1.83,0.002713)(1.86,0.002744)(1.90,0.002753)(1.93,0.002758)
(2.82,0.002781)(2.85,0.002763)(2.88,0.002725)(2.91,0.002721)(2.94,0.002696)
(3.83,0.002744)(3.86,0.002729)(3.90,0.002717)(3.93,0.0027)
(4.83,0.002681)(4.86,0.002698)(4.90,0.002706)(4.93,0.002723)
(5.83,0.002675)(5.86,0.002688)(5.90,0.002704)(5.93,0.002714)
(6.83,0.002736)(6.86,0.002713)(6.90,0.002696)(6.93,0.002678)
(7.83,0.002708)(7.86,0.002704)(7.90,0.002683)(7.93,0.002667)
(8.84,0.002725)(8.88,0.002708)(8.92,0.002692)
(9.83,0.002756)(9.86,0.002739)(9.90,0.002689)(9.93,0.0027)
(10.84,0.0028)(10.88,0.002792)(10.92,0.00275)
(11.83,0.002686)(11.86,0.002689)(11.90,0.002733)(11.93,0.002742)
(12.84,0.002736)(12.88,0.002711)(12.92,0.002681)
(13.83,0.002694)(13.86,0.002661)(13.90,0.002656)(13.93,0.002638)
(14.83,0.002675)(14.86,0.002679)(14.90,0.002708)(14.93,0.002736)
(15.83,0.002717)(15.86,0.002696)(15.90,0.002675)(15.93,0.002658)
(16.83,0.002692)(16.86,0.0027)(16.90,0.002729)(16.93,0.002738)
(17.83,0.002679)(17.86,0.002708)(17.90,0.002729)(17.93,0.002746)
(18.83,0.002725)(18.86,0.00271)(18.90,0.002696)(18.93,0.00269)
(19.84,0.00271)(19.88,0.002696)(19.92,0.002679)
(20.83,0.002718)(20.86,0.00271)(20.90,0.002696)(20.93,0.002685)
(21.83,0.00265)(21.86,0.00271)(21.90,0.002693)(21.93,0.002658)
(22.84,0.002688)(22.88,0.002702)(22.92,0.002713)
(23.84,0.002729)(23.88,0.002704)(23.92,0.002668)
(24.83,0.002743)(24.86,0.002735)(24.90,0.002717)(24.93,0.002702)
(25.83,0.002708)(25.86,0.002713)(25.90,0.002729)(25.93,0.002738)
(26.84,0.002708)(26.88,0.002696)(26.92,0.002688)
(27.83,0.002767)(27.86,0.002704)(27.90,0.002696)(27.93,0.002757)
(28.83,0.002683)(28.86,0.002692)(28.90,0.002713)(28.93,0.002738)
(29.84,0.002807)(29.88,0.002727)(29.92,0.00271)
(30.83,0.002717)(30.86,0.002667)(30.90,0.002652)(30.93,0.002675)
(31.83,0.002763)(31.86,0.002748)(31.90,0.002713)(31.93,0.002704)
(32.84,0.002668)(32.88,0.0027)(32.92,0.002708)
(33.83,0.002746)(33.86,0.002733)(33.90,0.002717)(33.93,0.002704)
(34.84,0.002683)(34.88,0.002721)(34.92,0.002729)
(35.83,0.002704)(35.86,0.00275)(35.90,0.002738)(35.93,0.002692)};
\addplot[rd] coordinates {
(0.84,0.002758)(0.88,0.002731)(0.92,0.002704)(0.96,nan)
(1.84,0.002739)(1.88,0.002748)(1.92,0.002758)(1.96,nan)
(2.84,0.002779)(2.88,0.00275)(2.92,0.002721)(2.96,nan)
(3.84,0.002729)(3.88,0.002721)(3.92,0.002714)(3.96,nan)
(4.84,0.002694)(4.88,0.002703)(4.92,0.002711)(4.96,nan)
(5.84,0.002679)(5.88,0.002692)(5.92,0.002704)(5.96,nan)
(6.84,0.002733)(6.88,0.002711)(6.92,0.002688)(6.96,nan)
(7.84,0.002696)(7.88,0.002683)(7.92,0.002671)(7.96,nan)
(8.84,0.002711)(8.88,0.002703)(8.92,0.002694)(8.96,nan)
(9.84,0.002754)(9.88,0.002708)(9.92,0.002733)(9.96,nan)
(10.84,0.002798)(10.88,0.002775)(10.92,0.002754)(10.96,nan)
(11.84,0.002686)(11.88,0.002711)(11.92,0.002736)(11.96,nan)
(12.84,0.002729)(12.88,0.002708)(12.92,0.002683)(12.96,nan)
(13.84,0.002683)(13.88,0.002661)(13.92,0.002638)(13.96,nan)
(14.84,0.002686)(14.88,0.0027)(14.92,0.002717)(14.96,nan)
(15.84,0.002704)(15.88,0.002692)(15.92,0.002679)(15.96,nan)
(16.84,0.002713)(16.88,0.002725)(16.92,0.002733)(16.96,nan)
(17.84,0.002704)(17.88,0.002717)(17.92,0.002725)(17.96,nan)
(18.84,0.002708)(18.88,0.0027)(18.92,0.002693)(18.96,nan)
(19.84,0.002704)(19.88,0.002692)(19.92,0.002679)(19.96,nan)
(20.84,0.002715)(20.88,0.002704)(20.92,0.002696)(20.96,nan)
(21.84,0.002667)(21.88,0.002692)(21.92,0.002679)(21.96,nan)
(22.84,0.002692)(22.88,0.0027)(22.92,0.002707)(22.96,nan)
(23.84,0.002704)(23.88,0.002696)(23.92,0.002688)(23.96,nan)
(24.84,0.002733)(24.88,0.002721)(24.92,0.002708)(24.96,nan)
(25.84,0.002713)(25.88,0.002725)(25.92,0.002735)(25.96,nan)
(26.84,0.0027)(26.88,0.002696)(26.92,0.002692)(26.96,nan)
(27.84,0.002758)(27.88,0.002717)(27.92,0.002758)(27.96,nan)
(28.84,0.0027)(28.88,0.002715)(28.92,0.002729)(28.96,nan)
(29.84,0.002779)(29.88,0.002754)(29.92,0.002729)(29.96,nan)
(30.84,0.002713)(30.88,0.002679)(30.92,0.002704)(30.96,nan)
(31.84,0.002758)(31.88,0.002742)(31.92,0.002725)(31.96,nan)
(32.84,0.002671)(32.88,0.002688)(32.92,0.002704)(32.96,nan)
(33.84,0.002717)(33.88,0.002721)(33.92,0.002725)(33.96,nan)
(34.84,0.002688)(34.88,0.002707)(34.92,0.002725)(34.96,nan)
(35.84,0.002708)(35.88,0.002729)(35.92,0.002717)};
\end{axis}

% ---------- C III ----------
\begin{axis}[panel, at={(78.5pt,91.15pt)},
  title={C III 97.70 nm (log T=4.84)},
  ymin=0.145, ymax=0.175,
  ytick={0.1475,0.155,0.165,0.1725},
  yticklabels={0.145,0.155,0.165,0.175},
  minor ytick={0.1475,0.15,0.1525,0.155,0.1575,0.16,0.1625,0.165,0.1675,0.17,0.1725},
  extra y ticks={0.155,0.165}]
\addplot[blk] coordinates {
(0.83,0.15475)(0.86,0.155583)(0.90,0.15625)(0.93,0.156917)
(1.83,0.153583)(1.86,0.154583)(1.90,0.155417)(1.93,0.156083)
(2.83,0.15625)(2.86,0.155417)(2.90,0.15475)(2.93,0.154417)
(3.83,0.153333)(3.86,0.154167)(3.90,0.155)(3.93,0.155833)
(4.84,0.156083)(4.88,0.155583)(4.92,0.155)
(5.83,0.1525)(5.86,0.153083)(5.90,0.15375)(5.93,0.154583)
(6.83,0.158333)(6.86,0.15775)(6.90,0.156917)(6.93,0.156083)
(7.83,0.15225)(7.86,0.153333)(7.90,0.154583)(7.93,0.155833)
(8.83,0.15775)(8.86,0.15875)(8.90,0.15975)(8.93,0.160417)
(9.83,0.152917)(9.86,0.15375)(9.90,0.155417)(9.93,0.156083)
(10.82,0.166083)(10.85,0.164167)(10.88,0.161917)(10.91,0.160833)(10.94,0.15875)
(11.83,0.153083)(11.86,0.15375)(11.90,0.155)(11.93,0.156667)
(12.84,0.154417)(12.88,0.155)(12.92,0.155583)
(13.83,0.15375)(13.86,0.152917)(13.90,0.151917)(13.93,0.150833)
(14.84,0.154583)(14.88,0.154167)(14.92,0.153583)
(15.83,0.151917)(15.86,0.15125)(15.90,0.150833)(15.93,0.14875)
(16.83,0.15275)(16.86,0.151917)(16.90,0.15125)(16.93,0.150417)
(17.83,0.153917)(17.86,0.154583)(17.90,0.15525)(17.93,0.155833)
(18.83,0.15275)(18.86,0.153083)(18.90,0.15375)(18.93,0.154417)
(19.83,0.153583)(19.86,0.154167)(19.90,0.15525)(19.93,0.155833)
(20.83,0.15275)(20.86,0.153333)(20.90,0.153917)(20.93,0.154583)
(21.83,0.15375)(21.86,0.152917)(21.90,0.151917)(21.93,0.151083)
(22.83,0.154167)(22.86,0.153083)(22.90,0.1525)(22.93,0.152083)
(23.83,0.151417)(23.86,0.15225)(23.90,0.153333)(23.93,0.155)
(24.83,0.152917)(24.86,0.15375)(24.90,0.15475)(24.93,0.156917)
(25.83,0.16025)(25.86,0.159167)(25.90,0.157917)(25.93,0.156417)
(26.83,0.1525)(26.86,0.153083)(26.90,0.153583)(26.93,0.154167)
(27.83,0.15625)(27.86,0.155583)(27.90,0.155)(27.93,0.154417)
(28.83,0.1575)(28.86,0.156417)(28.90,0.155417)(28.93,0.154167)
(29.83,0.152917)(29.86,0.153583)(29.90,0.154583)(29.93,0.155583)
(30.83,0.1525)(30.86,0.153583)(30.90,0.155)(30.93,0.155833)
(31.84,0.159167)(31.88,0.155833)(31.92,0.155)
(32.83,0.153083)(32.86,0.15225)(32.90,0.151417)(32.93,0.150583)
(33.83,0.153333)(33.86,0.153917)(33.90,0.154583)(33.93,0.15525)
(34.83,0.15625)(34.86,0.155417)(34.90,0.154167)(34.93,0.153583)
(35.83,0.153583)(35.86,0.154167)(35.90,0.155417)(35.93,0.156417)};
\addplot[rd] coordinates {
(0.84,0.155417)(0.88,0.156083)(0.92,0.156667)(0.96,nan)
(1.84,0.154167)(1.88,0.155)(1.92,0.155833)(1.96,nan)
(2.84,0.155833)(2.88,0.15525)(2.92,0.154583)(2.96,nan)
(3.84,0.15375)(3.88,0.154583)(3.92,0.155583)(3.96,nan)
(4.84,0.1554)(4.88,0.15545)(4.92,0.1554)(4.96,nan)
(5.84,0.15275)(5.88,0.153583)(5.92,0.154417)(5.96,nan)
(6.84,0.15775)(6.88,0.156917)(6.92,0.15625)(6.96,nan)
(7.84,0.1525)(7.88,0.153917)(7.92,0.155417)(7.96,nan)
(8.84,0.157917)(8.88,0.158917)(8.92,0.16)(8.96,nan)
(9.84,0.15375)(9.88,0.15475)(9.92,0.155833)(9.96,nan)
(10.84,0.165833)(10.88,0.1625)(10.92,0.158917)(10.96,nan)
(11.84,0.153333)(11.88,0.155)(11.92,0.156667)(11.96,nan)
(12.84,0.154583)(12.88,0.154917)(12.92,0.15525)(12.96,nan)
(13.84,0.153333)(13.88,0.1525)(13.92,0.151667)(13.96,nan)
(14.84,0.154167)(14.88,0.15418)(14.92,0.154167)(14.96,nan)
(15.84,0.151667)(15.88,0.15125)(15.92,0.150833)(15.96,nan)
(16.84,0.152083)(16.88,0.151667)(16.92,0.15125)(16.96,nan)
(17.84,0.154167)(17.88,0.15475)(17.92,0.155417)(17.96,nan)
(18.84,0.152917)(18.88,0.153583)(18.92,0.154167)(18.96,nan)
(19.84,0.153917)(19.88,0.15475)(19.92,0.155583)(19.96,nan)
(20.84,0.152917)(20.88,0.153583)(20.92,0.154167)(20.96,nan)
(21.84,0.153333)(21.88,0.1525)(21.92,0.151417)(21.96,nan)
(22.84,0.152917)(22.88,0.152583)(22.92,0.15225)(22.96,nan)
(23.84,0.151417)(23.88,0.153083)(23.92,0.154583)(23.96,nan)
(24.84,0.153583)(24.88,0.154583)(24.92,0.155417)(24.96,nan)
(25.84,0.159167)(25.88,0.158083)(25.92,0.157083)(25.96,nan)
(26.84,0.152917)(26.88,0.153333)(26.92,0.15375)(26.96,nan)
(27.84,0.155833)(27.88,0.15525)(27.92,0.154583)(27.96,nan)
(28.84,0.155833)(28.88,0.155)(28.92,0.154417)(28.96,nan)
(29.84,0.153333)(29.88,0.154167)(29.92,0.155)(29.96,nan)
(30.84,0.15375)(30.88,0.154583)(30.92,0.155417)(30.96,nan)
(31.84,0.15875)(31.88,0.156667)(31.92,0.155)(31.96,nan)
(32.84,0.1525)(32.88,0.151917)(32.92,0.15125)(32.96,nan)
(33.84,0.15375)(33.88,0.154417)(33.92,0.155)(33.96,nan)
(34.84,0.155)(34.88,0.154417)(34.92,0.153917)(34.96,nan)
(35.84,0.15375)(35.88,0.15525)(35.92,0.156667)};
\end{axis}
\end{tikzpicture}
\end{document}
